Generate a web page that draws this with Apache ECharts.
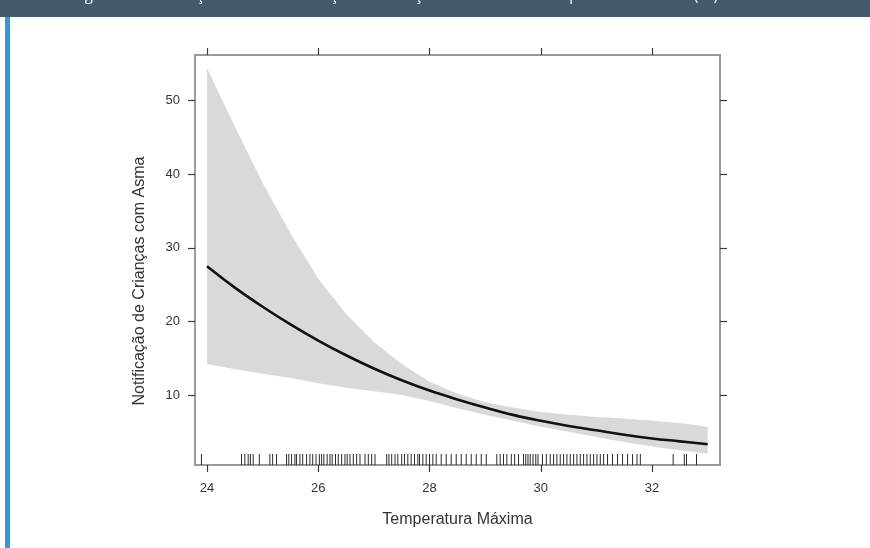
<!DOCTYPE html>
<html><head><meta charset="utf-8">
<script src="https://cdn.jsdelivr.net/npm/echarts@6/dist/echarts.min.js"></script>
<style>html,body{margin:0;padding:0;background:#fff;overflow:hidden}#c{width:870px;height:548px}</style>
</head><body><div id="c"></div>
<script>
// ---- data ----
const titleText = 'Figura 3 – Associação entre a notificação de crianças com asma e a temperatura máxima (ºC)';
const xTitle = 'Temperatura Máxima';
const yTitle = 'Notificação de Crianças com Asma';
const xTicks = [24, 26, 28, 30, 32];
const yTicks = [10, 20, 30, 40, 50];
const xGrid = [24, 24.5, 25, 25.5, 26, 26.5, 27, 27.5, 28, 28.5, 29, 29.5, 30, 30.5, 31, 31.5, 32, 32.5, 33];
const fitted = [27.5, 24.6, 22.0, 19.6, 17.4, 15.4, 13.6, 12.0, 10.6, 9.4, 8.3, 7.3, 6.5, 5.8, 5.2, 4.6, 4.1, 3.7, 3.3];
const upper  = [54.4, 46.5, 38.8, 32.0, 25.8, 21.0, 17.2, 14.2, 11.8, 10.2, 9.0, 8.3, 7.7, 7.3, 7.0, 6.8, 6.5, 6.2, 5.7];
const lower  = [14.2, 13.5, 12.9, 12.3, 11.6, 11.0, 10.5, 10.0, 9.2, 8.2, 7.3, 6.5, 5.7, 5.0, 4.3, 3.6, 3.0, 2.5, 2.0];
const rug = [23.9, 24.62, 24.68, 24.74, 24.78, 24.83, 24.94, 25.13, 25.18, 25.25, 25.43, 25.47, 25.52, 25.58, 25.61,
  25.67, 25.72, 25.79, 25.85, 25.90, 25.96, 26.02, 26.06, 26.10, 26.16, 26.21, 26.25, 26.31, 26.36, 26.42, 26.48,
  26.52, 26.57, 26.63, 26.69, 26.75, 26.84, 26.90, 26.96, 27.02, 27.23, 27.27, 27.32, 27.38, 27.43, 27.50, 27.55,
  27.61, 27.67, 27.73, 27.79, 27.82, 27.88, 27.94, 28.00, 28.06, 28.12, 28.21, 28.30, 28.39, 28.48, 28.57, 28.66,
  28.75, 28.84, 28.93, 29.02, 29.21, 29.27, 29.33, 29.39, 29.47, 29.53, 29.60, 29.69, 29.73, 29.77, 29.81, 29.86,
  29.91, 29.95, 30.03, 30.10, 30.17, 30.23, 30.29, 30.35, 30.41, 30.47, 30.53, 30.59, 30.65, 30.71, 30.77, 30.83,
  30.89, 30.95, 31.01, 31.07, 31.13, 31.20, 31.29, 31.38, 31.47, 31.56, 31.65, 31.73, 31.79, 32.38, 32.58, 32.62, 32.80];
const xRange = [23.784, 33.222];
const yRange = [0.487, 56.21];

// ---- chart ----
const chart = echarts.init(document.getElementById('c'), null, {renderer: 'canvas'});
const font = 'Liberation Sans, Arial, sans-serif';
const tickStyle = {color: '#3a3a3a', width: 1.2};
const bandData = xGrid.map((x, i) => [x, lower[i], upper[i]]);
const fitData = xGrid.map((x, i) => [x, fitted[i]]);
const rugData = rug.map(v => [v, yRange[0]]);

const option = {
  animation: false,
  backgroundColor: '#fff',
  grid: {left: 195, right: 150, top: 55, bottom: 83, show: true, borderColor: '#9a9a9a', borderWidth: 2, backgroundColor: 'transparent'},
  xAxis: [
    {type: 'value', position: 'bottom', min: xRange[0], max: xRange[1],
     axisLine: {show: false}, splitLine: {show: false},
     axisTick: {show: true, customValues: xTicks, length: 7, lineStyle: tickStyle},
     axisLabel: {customValues: xTicks, fontSize: 13, color: '#333', fontFamily: font, margin: 17},
     name: xTitle, nameLocation: 'middle', nameGap: 47,
     nameTextStyle: {fontSize: 16, color: '#333', fontFamily: font}},
    {type: 'value', position: 'top', min: xRange[0], max: xRange[1],
     axisLine: {show: false}, splitLine: {show: false},
     axisTick: {show: true, customValues: xTicks, length: 7, lineStyle: tickStyle},
     axisLabel: {show: false}}
  ],
  yAxis: [
    {type: 'value', position: 'left', min: yRange[0], max: yRange[1],
     axisLine: {show: false}, splitLine: {show: false},
     axisTick: {show: true, customValues: yTicks, length: 7, lineStyle: tickStyle},
     axisLabel: {customValues: yTicks, fontSize: 13, color: '#333', fontFamily: font, margin: 15}},
    {type: 'value', position: 'right', min: yRange[0], max: yRange[1],
     axisLine: {show: false}, splitLine: {show: false},
     axisTick: {show: true, customValues: yTicks, length: 7, lineStyle: tickStyle},
     axisLabel: {show: false}}
  ],
  series: [
    {type: 'custom', data: bandData, z: 2, silent: true,
     encode: {x: 0, y: [1, 2]},
     renderItem: function (params, api) {
       if (params.dataIndex !== 0) return null;
       const pts = [];
       for (let i = 0; i < bandData.length; i++) pts.push(api.coord([bandData[i][0], bandData[i][2]]));
       for (let i = bandData.length - 1; i >= 0; i--) pts.push(api.coord([bandData[i][0], bandData[i][1]]));
       return {type: 'polygon', shape: {points: pts}, style: {fill: '#d9d9d9', stroke: null}};
     }},
    {type: 'line', data: fitData, smooth: 0.4, symbol: 'none',
     lineStyle: {color: '#111', width: 2.6}, z: 5},
    {type: 'custom', data: rugData, clip: false, z: 4,
     encode: {x: 0, y: 1},
     renderItem: function (params, api) {
       const p = api.coord([api.value(0), api.value(1)]);
       return {type: 'line', shape: {x1: p[0], y1: p[1], x2: p[0], y2: p[1] - 11},
               style: {stroke: '#2a2a2a', lineWidth: 1}};
     }}
  ],
  graphic: [
    {type: 'rect', left: 0, top: 0, shape: {width: 870, height: 17}, style: {fill: '#465a6e'}, z: 10},
    {type: 'text', x: 718, y: 3, z: 11,
     style: {text: titleText, fill: '#ffffff', font: '15px "Open Sans", sans-serif', align: 'right', verticalAlign: 'bottom'}},
    {type: 'rect', left: 5, top: 17, shape: {width: 5, height: 531}, style: {fill: '#3796d8'}, z: 10},
    {type: 'text', x: 140, y: 281, rotation: Math.PI / 2, z: 10,
     style: {text: yTitle, fill: '#333', font: '16px ' + font, align: 'center', verticalAlign: 'middle'}}
  ]
};
chart.setOption(option);
</script>
</body></html>
